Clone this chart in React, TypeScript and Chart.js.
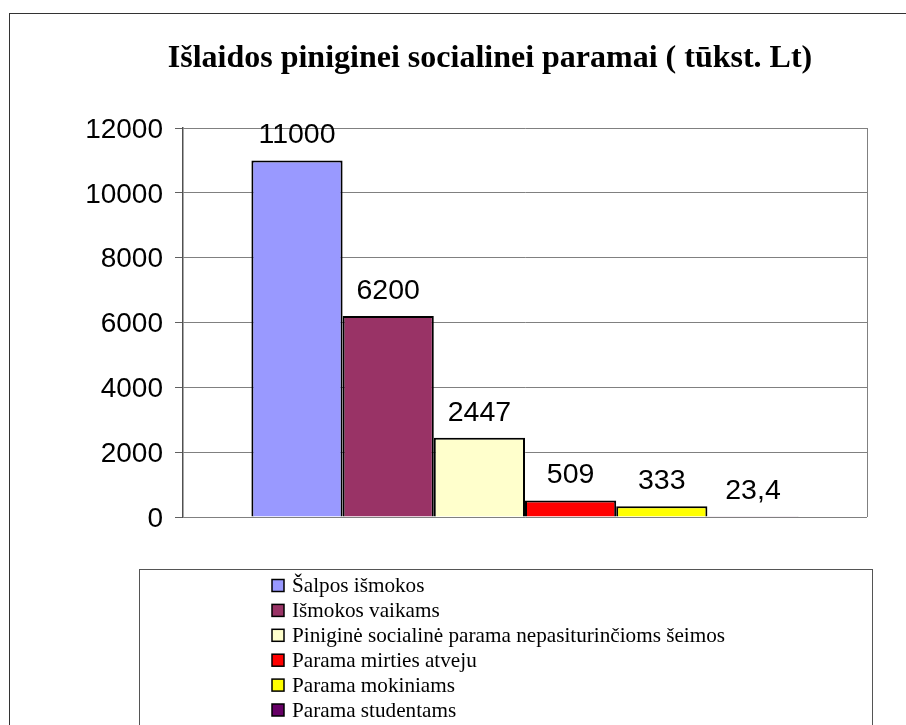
import React, { useEffect, useRef } from "react";
import { Chart, registerables } from "chart.js";

Chart.register(...registerables);

const TITLE = "Išlaidos piniginei socialinei paramai ( tūkst. Lt)";
const CATEGORIES = [""];
const SERIES_LABELS = [
  "Šalpos išmokos",
  "Išmokos vaikams",
  "Piniginė socialinė parama nepasiturinčioms šeimos",
  "Parama mirties atveju",
  "Parama mokiniams",
  "Parama studentams",
];
const SERIES_VALUES = [11000, 6200, 2447, 509, 333, 23.4];
const VALUE_LABELS = ["11000", "6200", "2447", "509", "333", "23,4"];
const SERIES_COLORS = ["#9999FF", "#993366", "#FFFFCC", "#FF0000", "#FFFF00", "#660066"];
const Y_MIN = 0;
const Y_MAX = 12000;
const Y_STEP = 2000;

const SERIF = "'Times New Roman', 'Liberation Serif', serif";
const SANS = "Arial, 'Liberation Sans', sans-serif";

const decorPlugin = {
  id: "decor",
  afterDatasetsDraw(chart: any) {
    const ctx = chart.ctx;
    ctx.save();
    ctx.fillStyle = "#000";
    ctx.font = `28.5px ${SANS}`;
    ctx.textAlign = "center";
    ctx.textBaseline = "alphabetic";
    chart.data.datasets.forEach((ds: any, i: number) => {
      const meta = chart.getDatasetMeta(i);
      const bar = meta.data[0];
      if (!bar) return;
      ctx.fillText(VALUE_LABELS[i], bar.x, bar.y - 17);
    });
    ctx.restore();
  },
  afterDraw(chart: any) {
    const ctx = chart.ctx;
    const ca = chart.chartArea;
    ctx.save();
    // outer frame
    ctx.strokeStyle = "#333";
    ctx.lineWidth = 1;
    ctx.strokeRect(9.5, 13.5, 1200, 1200);
    // plot area right border
    ctx.strokeStyle = "#808080";
    ctx.beginPath();
    ctx.moveTo(Math.round(ca.right) + 0.5, ca.top);
    ctx.lineTo(Math.round(ca.right) + 0.5, ca.bottom);
    ctx.stroke();
    // title
    ctx.fillStyle = "#000";
    ctx.font = `bold 32px ${SERIF}`;
    ctx.textAlign = "center";
    ctx.textBaseline = "alphabetic";
    ctx.fillText(TITLE, 490, 67);
    // legend box
    ctx.strokeStyle = "#555";
    ctx.lineWidth = 1;
    ctx.strokeRect(139.5, 569.5, 733, 400);
    ctx.font = `21.2px ${SERIF}`;
    ctx.textAlign = "left";
    ctx.textBaseline = "middle";
    SERIES_LABELS.forEach((lab, i) => {
      const cy = 585.5 + i * 24.9;
      ctx.fillStyle = SERIES_COLORS[i];
      ctx.fillRect(272, cy - 6, 12, 12);
      ctx.strokeStyle = "#000";
      ctx.lineWidth = 1.5;
      ctx.strokeRect(272, cy - 6, 12, 12);
      ctx.fillStyle = "#000";
      ctx.fillText(lab, 292, cy + 1);
    });
    ctx.restore();
  },
};

export default function App() {
  const ref = useRef<HTMLCanvasElement | null>(null);
  useEffect(() => {
    document.body.style.margin = "0";
    const canvas = ref.current;
    if (!canvas) return;
    const chart = new Chart(canvas, {
      type: "bar",
      data: {
        labels: CATEGORIES,
        datasets: SERIES_LABELS.map((label, i) => ({
          label,
          data: [SERIES_VALUES[i]],
          backgroundColor: SERIES_COLORS[i],
          borderColor: "#000",
          borderWidth: 2,
          categoryPercentage: 0.8,
          barPercentage: 1.0,
        })),
      },
      options: {
        responsive: false,
        animation: false,
        devicePixelRatio: 1,
        layout: { padding: { left: 0, top: 128, right: 39, bottom: 208 } },
        plugins: {
          legend: { display: false },
          title: { display: false },
          tooltip: { enabled: false },
        },
        scales: {
          x: { display: false },
          y: {
            min: Y_MIN,
            max: Y_MAX,
            afterFit(scale: any) {
              scale.width = 183;
            },
            ticks: {
              stepSize: Y_STEP,
              color: "#000",
              padding: 12,
              labelOffset: 2,
              font: { family: SANS, size: 28 },
              callback: (v: any) => String(v),
            },
            grid: {
              color: "#808080",
              lineWidth: 1,
              tickLength: 8,
              tickColor: "#606060",
            },
            border: { color: "#505050", width: 1.5 },
          },
        },
      },
      plugins: [decorPlugin],
    });
    return () => chart.destroy();
  }, []);
  return (
    <div style={{ width: 906, height: 725 }}>
      <canvas ref={ref} width={906} height={725} style={{ display: "block" }} />
    </div>
  );
}
